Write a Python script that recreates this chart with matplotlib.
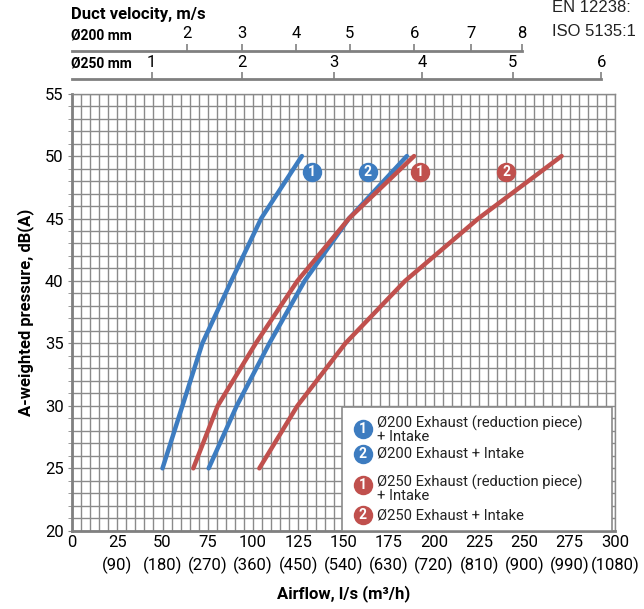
import numpy as np
import matplotlib.pyplot as plt
from matplotlib.patches import Rectangle

# airflow (l/s) for each curve, at the dB levels below
db_levels = [25, 30, 35, 40, 45, 50]
d200_reduction = [50, 61, 72, 88, 104.5, 127]
d200_plain = [75.5, 91, 109, 128.5, 153, 185]
d250_reduction = [67, 80.5, 101.5, 124.5, 153, 189]
d250_plain = [103.5, 124.5, 151, 184, 224.5, 270.5]

# numbered badges next to the curve ends (airflow, dB)
badge_x = [132.5, 163.5, 192, 240]
badge_y = [48.7, 48.7, 48.7, 48.7]
badge_num = ["1", "2", "1", "2"]

# bottom axis labels
flow_ticks = [0, 25, 50, 75, 100, 125, 150, 175, 200, 225, 250, 275, 300]
flow_m3h = ["", "(90)", "(180)", "(270)", "(360)", "(450)", "(540)", "(630)",
            "(720)", "(810)", "(900)", "(990)", "(1080)"]

# duct velocity scales (airflow where each m/s tick sits)
vel200 = [2, 3, 4, 5, 6, 7, 8]
vel200_pos = [63.5, 94, 124, 153.5, 189, 220.5, 248.5]
vel250 = [1, 2, 3, 4, 5, 6]
vel250_pos = [44, 94, 144.5, 193.5, 243.5, 292.5]

legend_labels = ["Ø200 Exhaust (reduction piece)\n+ Intake",
                 "Ø200 Exhaust + Intake",
                 "Ø250 Exhaust (reduction piece)\n+ Intake",
                 "Ø250 Exhaust + Intake"]

BLUE = "#3d7cc0"
RED = "#c0504d"
GREY = "#8a8a8a"

plt.rcParams['font.family'] = ['Roboto', 'DejaVu Sans']

W, H = 644, 609
fig = plt.figure(figsize=(W / 100, H / 100), dpi=100)


def fx(px):
    return px / W


def fy(py):
    return 1 - py / H


x0, x1 = 72, 615
y_top, y_bot = 93.6, 530.8
ax = fig.add_axes([fx(x0), fy(y_bot), fx(x1) - fx(x0), fy(y_top) - fy(y_bot)])
ax.set_xlim(0, 300)
ax.set_ylim(20, 55)

ax.set_xticks(np.arange(0, 301, 5), minor=True)
ax.set_yticks(np.arange(20, 56, 1), minor=True)
ax.grid(which='both', color=GREY, linewidth=1.0)
ax.set_axisbelow(True)

for s in ['top', 'right']:
    ax.spines[s].set_color(GREY)
    ax.spines[s].set_linewidth(1.0)
for s in ['left', 'bottom']:
    ax.spines[s].set_color('#808080')
    ax.spines[s].set_linewidth(2.0)

ax.set_xticks(flow_ticks)
ax.set_xticklabels([f"{t}\n{m}" for t, m in zip(flow_ticks, flow_m3h)],
                   fontsize=12, linespacing=1.5)
ax.set_yticks(range(20, 56, 5))
ax.tick_params(axis='y', which='both', length=3, color=GREY, labelsize=12, pad=3)
ax.tick_params(axis='x', which='both', length=0, labelsize=12, pad=3)

ax.set_xlabel("Airflow, l/s (m³/h)", fontsize=12, fontweight='bold', labelpad=8)
ax.set_ylabel("A-weighted pressure, dB(A)", fontsize=12, fontweight='bold', labelpad=8)

curves = [(d200_reduction, BLUE), (d200_plain, BLUE),
          (d250_reduction, RED), (d250_plain, RED)]
for xs, c in curves:
    ax.plot(xs, db_levels, color=c, linewidth=3.2, solid_capstyle='round', zorder=3)

badge_colors = [BLUE, BLUE, RED, RED]
for bx, by, n, c in zip(badge_x, badge_y, badge_num, badge_colors):
    ax.plot(bx, by, 'o', markersize=14, color=c, markeredgewidth=0, zorder=4)
    ax.text(bx, by, n, color='white', fontsize=10, fontweight='bold',
            ha='center', va='center', zorder=5)

# legend box
ax.add_patch(Rectangle((0.497, 0.0), 0.497, 0.2825, transform=ax.transAxes,
                       facecolor='white', edgecolor=GREY, linewidth=1.2, zorder=6))
leg_circle_y = [0.232, 0.175, 0.1048, 0.036]
leg_text_y = [0.2305, 0.1757, 0.0956, 0.036]
for cy, ty, lab, n, c in zip(leg_circle_y, leg_text_y, legend_labels, badge_num, badge_colors):
    ax.plot(0.535, cy, 'o', markersize=14, color=c, markeredgewidth=0,
            transform=ax.transAxes, zorder=7, clip_on=False)
    ax.text(0.535, cy, n, color='white', fontsize=10, fontweight='bold',
            ha='center', va='center', transform=ax.transAxes, zorder=8)
    ax.text(0.561, ty, lab, fontsize=10.6, ha='left', va='center', linespacing=0.88,
            transform=ax.transAxes, zorder=8, color='#222222')


def velocity_axis(py, ticks, pos, name):
    a = fig.add_axes([fx(x0), fy(py), fx(x1) - fx(x0), 0.001])
    a.set_xlim(0, 300)
    a.patch.set_visible(False)
    for s in ['left', 'right', 'bottom']:
        a.spines[s].set_visible(False)
    a.spines['top'].set_color('#808080')
    a.spines['top'].set_linewidth(2.0)
    a.spines['top'].set_bounds(0, pos[-1])
    a.set_yticks([])
    a.xaxis.tick_top()
    a.set_xticks(pos)
    a.set_xticklabels([str(v) for v in ticks], fontsize=12)
    a.tick_params(axis='x', length=5, width=1.2, color='#808080', pad=2)
    fig.text(fx(71), fy(py - 16), name, fontsize=10, fontweight='bold',
             ha='left', va='center')


velocity_axis(51.7, vel200, vel200_pos, "Ø200 mm")
velocity_axis(80, vel250, vel250_pos, "Ø250 mm")

fig.text(fx(71), fy(14), "Duct velocity, m/s", fontsize=12, fontweight='bold',
         ha='left', va='center')
fig.text(fx(552), fy(7), "EN 12238:", fontsize=12, family='Liberation Sans',
         ha='left', va='center', color='#222222')
fig.text(fx(552), fy(31), "ISO 5135:1", fontsize=12, family='Liberation Sans',
         ha='left', va='center', color='#222222')

fig.savefig("out.png", dpi=100)
